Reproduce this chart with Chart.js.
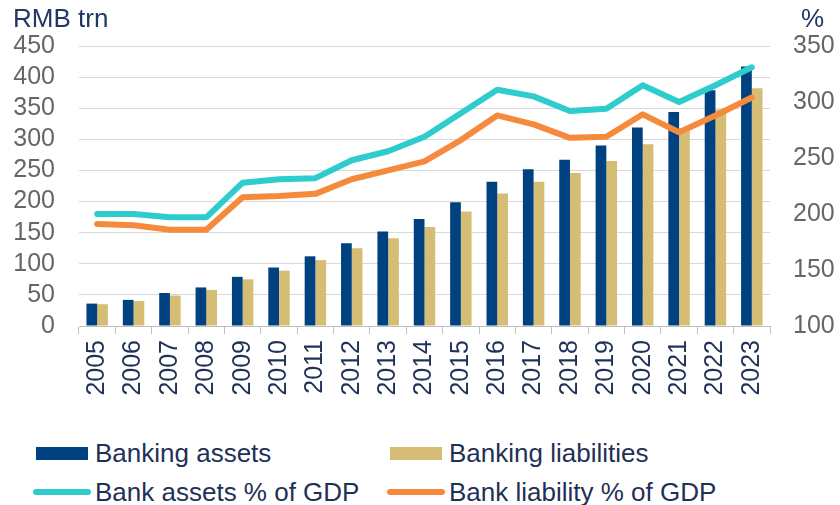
<!DOCTYPE html>
<html>
<head>
<meta charset="utf-8">
<script src="https://cdn.jsdelivr.net/npm/chart.js@4"></script>
<style>
  body { margin: 0; background: #fff; }
  #wrap { position: relative; width: 840px; height: 505px; font-family: "Liberation Sans", Arial, sans-serif; }
  #chart { position: absolute; left: 0; top: 0; }
  .lg { position: absolute; height: 30px; line-height: 30px; font-size: 26px; color: #1f3157; white-space: nowrap; }
  .lg span.sw { position: absolute; }
</style>
</head>
<body>
<div id="wrap">
  <canvas id="chart" width="840" height="415"></canvas>
  <div id="legend"></div>
</div>
<script>
// datos
const years = ['2005','2006','2007','2008','2009','2010','2011','2012','2013','2014',
               '2015','2016','2017','2018','2019','2020','2021','2022','2023'];
const bankingAssets = [36, 42, 53, 62, 79, 94, 112, 133, 152, 172, 199, 232, 252, 267, 290, 319, 344, 379, 417];
const bankingLiabilities = [35, 40, 49, 58, 75, 89, 106, 125, 141, 159, 184, 213, 232, 246, 265, 292, 318, 348, 382];
const assetsPctGdp = [200, 200, 197, 197, 228, 231, 232, 248, 256, 269, 290, 311, 305, 292, 294, 315, 300, 315, 331];
const liabilityPctGdp = [191, 190, 186, 186, 215, 216, 218, 231, 239, 247, 266, 288, 280, 268, 269, 289, 273, 288, 304];
const leftTicks = [0, 450, 50];   // min, max, paso
const rightTicks = [100, 350, 50];

const navy = '#00427f';
const tan = '#d6bd76';
const cyan = '#2ecccc';
const orange = '#f68a3c';
const textNavy = '#1f3157';

// titulos de los ejes arriba
const axisTitles = {
    id: 'axisTitles',
    afterDraw(chart) {
        const ctx = chart.ctx;
        ctx.save();
        ctx.font = '26px "Liberation Sans", Arial, sans-serif';
        ctx.fillStyle = '#1f3864';
        ctx.textBaseline = 'alphabetic';
        ctx.textAlign = 'left';
        ctx.fillText('RMB trn', 13, 27);
        ctx.fillText('%', 801, 27);
        ctx.restore();
    }
};

const ctx = document.getElementById('chart').getContext('2d');
new Chart(ctx, {
    type: 'bar',
    data: {
        labels: years,
        datasets: [
            {
                type: 'line',
                label: 'Bank assets % of GDP',
                data: assetsPctGdp,
                yAxisID: 'y1',
                borderColor: cyan,
                backgroundColor: cyan,
                borderWidth: 6,
                pointRadius: 0,
                tension: 0,
                borderJoinStyle: 'round',
                borderCapStyle: 'round',
                order: 1
            },
            {
                type: 'line',
                label: 'Bank liability % of GDP',
                data: liabilityPctGdp,
                yAxisID: 'y1',
                borderColor: orange,
                backgroundColor: orange,
                borderWidth: 6,
                pointRadius: 0,
                tension: 0,
                borderJoinStyle: 'round',
                borderCapStyle: 'round',
                order: 1
            },
            {
                label: 'Banking assets',
                data: bankingAssets,
                yAxisID: 'y',
                backgroundColor: navy,
                categoryPercentage: 0.59,
                barPercentage: 1,
                order: 2
            },
            {
                label: 'Banking liabilities',
                data: bankingLiabilities,
                yAxisID: 'y',
                backgroundColor: tan,
                categoryPercentage: 0.59,
                barPercentage: 1,
                order: 2
            }
        ]
    },
    options: {
        responsive: false,
        animation: false,
        layout: { padding: { top: 46, left: 0, right: 0, bottom: 0 } },
        plugins: {
            legend: { display: false },
            tooltip: { enabled: false }
        },
        scales: {
            x: {
                offset: true,
                grid: { offset: true, drawOnChartArea: false, drawTicks: true, tickLength: 8, color: '#bfbfbf' },
                border: { color: '#bfbfbf' },
                ticks: {
                    autoSkip: false,
                    minRotation: 90,
                    maxRotation: 90,
                    padding: 6,
                    color: textNavy,
                    font: { family: '"Liberation Sans", Arial, sans-serif', size: 25 }
                },
                afterFit(scale) { scale.height = 89; }
            },
            y: {
                position: 'left',
                min: leftTicks[0],
                max: leftTicks[1],
                ticks: {
                    stepSize: leftTicks[2],
                    autoSkip: false,
                    padding: 24,
                    color: '#666666',
                    font: { family: '"Liberation Sans", Arial, sans-serif', size: 25 }
                },
                grid: { color: '#d9d9d9', drawTicks: false },
                border: { display: false },
                afterFit(scale) { scale.width = 79; }
            },
            y1: {
                position: 'right',
                min: rightTicks[0],
                max: rightTicks[1],
                ticks: {
                    stepSize: rightTicks[2],
                    autoSkip: false,
                    padding: 23,
                    color: '#666666',
                    font: { family: '"Liberation Sans", Arial, sans-serif', size: 25 }
                },
                grid: { drawOnChartArea: false, drawTicks: false },
                border: { display: false },
                afterFit(scale) { scale.width = 70; }
            }
        }
    },
    plugins: [axisTitles]
});

// leyenda en HTML, dos columnas
const legendItems = [
    { text: 'Banking assets', color: navy, kind: 'box', x: 36, y: 453 },
    { text: 'Banking liabilities', color: tan, kind: 'box', x: 390, y: 453 },
    { text: 'Bank assets % of GDP', color: cyan, kind: 'line', x: 33, y: 492 },
    { text: 'Bank liability % of GDP', color: orange, kind: 'line', x: 387, y: 492 }
];
const legendEl = document.getElementById('legend');
legendItems.forEach(it => {
    const d = document.createElement('div');
    d.className = 'lg';
    d.style.left = it.x + 'px';
    d.style.top = (it.y - 15) + 'px';
    const sw = document.createElement('span');
    sw.className = 'sw';
    if (it.kind === 'box') {
        sw.style.cssText = 'left:0;top:9px;width:52px;height:13px;background:' + it.color;
    } else {
        sw.style.cssText = 'left:0;top:12px;width:58px;height:6px;border-radius:3px;background:' + it.color;
    }
    d.appendChild(sw);
    const t = document.createElement('span');
    t.textContent = it.text;
    t.style.marginLeft = (it.kind === 'box' ? 59 : 62) + 'px';
    d.appendChild(t);
    legendEl.appendChild(d);
});
</script>
</body>
</html>
